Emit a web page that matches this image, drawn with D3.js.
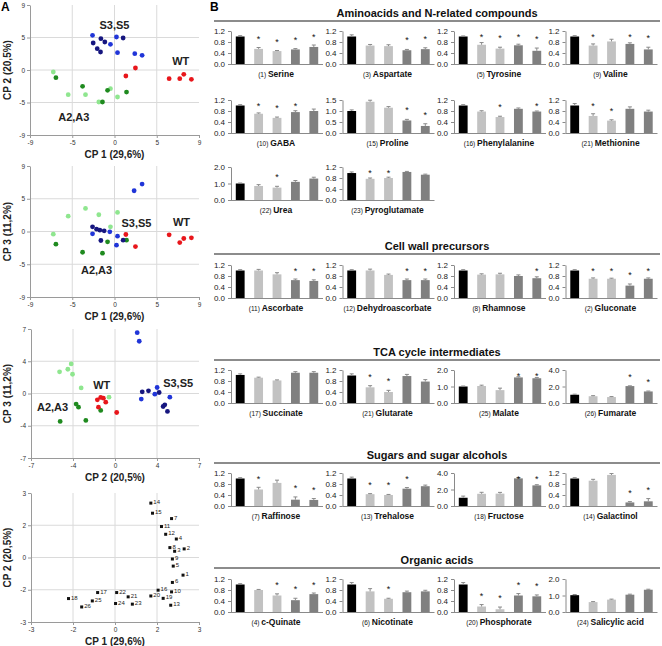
<!DOCTYPE html>
<html><head><meta charset="utf-8">
<script src="https://cdn.jsdelivr.net/npm/d3@7"></script>
<style>body{margin:0;background:#fff}svg{font-family:"Liberation Sans",Arial,sans-serif}</style>
</head><body><svg id="c" width="662" height="646"></svg>
<script>
// ---------------- DATA ----------------
const groups = ["WT","A2","A3","S3","S5"];

// PCA scores: CP1 vs CP2
const s12_WT = [[2.23,0.28],[1.21,-0.83],[5.82,-1.2],[6.95,-1.2],[7.38,-0.6],[8.19,-1.29]];
const s12_A2 = [[-6.52,-0.28],[-4.93,-3.41],[-3.09,-3.41],[-0.43,-2.58],[-1.67,-4.43],[0.32,-3.74]];
const s12_A3 = [[-6.24,-1.06],[-3.4,-2.26],[-0.74,-2.81],[-1.28,-4.43],[1.28,-3.05]];
const s12_S3 = [[-1.45,4.34],[-1.03,3.88],[-1.84,2.95],[-1.49,2.49],[0.92,4.43],[-2.27,3.74]];
const s12_S5 = [[-2.34,4.8],[-0.43,3.55],[0.21,4.57],[0.32,2.4],[2.16,2.26],[2.94,2.03]];
// CP1 vs CP3
const s13_WT = [[1.21,-0.41],[2.23,-2.07],[5.82,-0.46],[6.95,-1.52],[7.38,-0.96],[8.19,-0.87]];
const s13_A2 = [[-6.52,-0.37],[-4.93,2.11],[-3.09,3.17],[-1.67,2.3],[0.32,2.62],[-0.43,0.64]];
const s13_A3 = [[-6.24,-1.74],[-3.4,-2.85],[-1.28,-2.98],[-0.74,-1.42],[1.28,-1.19]];
const s13_S3 = [[-1.91,0.32],[-1.56,0.18],[-1.1,0.09],[-1.45,-1.24],[0.92,-1.19],[-2.34,0.64]];
const s13_S5 = [[2.09,5.6],[2.94,6.52],[-0.5,-0.05],[-2.34,-0.32],[0.32,-0.64],[0.21,-1.88]];
// CP2 vs CP3
const s23_WT = [[-1.47,-0.69],[-1.19,-0.43],[-0.97,-0.51],[-1.38,-1.48],[-0.77,-0.94],[0.14,-2.06]];
const s23_A2 = [[-4.62,2.35],[-3.93,2.63],[-3.65,3.21],[-3.54,2.09],[-2.82,0.61],[-0.5,-0.4]];
const s23_A3 = [[-3.24,-1.15],[-3.04,-1.48],[-4.57,-3.03],[-2.43,-2.92],[-1.19,-1.84]];
const s23_S3 = [[2.27,0.18],[2.79,0.29],[3.68,0.11],[4.01,-1.41],[4.15,-1.23],[4.37,-1.95]];
const s23_S5 = [[1.85,6.6],[2.02,5.67],[3.32,-0.07],[3.51,0.65],[2.19,-0.61],[4.57,-0.4]];

const groupLabels12 = [["S3,S5",0,6.2],["WT",7.06,1.2],["A2,A3",-4.33,-6.5]];
const groupLabels13 = [["S3,S5",2.34,1.19],["WT",7.13,1.33],["A2,A3",-1.91,-5.23]];
const groupLabels23 = [["WT",-1.1,0.94],["S3,S5",5.26,1.19],["A2,A3",-5.2,-1.48]];

const ticks9 = [-9,-4.5,0,4.5,9], tickLabels9 = ["-9","-5","0","5","9"];
const ticks7 = [-7,-3.5,0,3.5,7], tickLabels7 = ["-7","-4","0","4","7"];
const ticks3 = [-3,-1.5,0,1.5,3], tickLabels3 = ["-3","-2","0","2","3"];

// loadings CP1 / CP2 (metabolite numbers 1..26)
const loadingIds = d3.range(1,27);
const loadingCP1 = [2.43,2.47,2.13,2.19,2.08,2.05,2.02,1.96,2.05,2.02,1.66,1.81,1.99,1.28,1.34,1.54,-0.62,-1.66,1.72,1.28,0.47,0.06,0.62,0.02,-0.81,-1.19];
const loadingCP2 = [-0.82,0.40,0.29,0.86,-0.40,-1.16,1.81,0.46,-0.07,-1.60,1.44,1.08,-2.22,2.53,2.06,-1.52,-1.63,-1.91,-1.90,-1.79,-1.83,-1.63,-2.17,-2.14,-2.02,-2.30];

// bar charts
const sectionTitles = ["Aminoacids and N-related compounds","Cell wall precursors","TCA cycle intermediates","Sugars and sugar alcohols","Organic acids"];
const sectionMembers = [[0,1,2,3,4,5,6,7,8,9],[10,11,12,13],[14,15,16,17],[18,19,20,21],[22,23,24,25]];
const metNames = ["Serine","Aspartate","Tyrosine","Valine","GABA","Proline","Phenylalanine","Methionine","Urea","Pyroglutamate",
  "Ascorbate","Dehydroascorbate","Rhamnose","Gluconate",
  "Succinate","Glutarate","Malate","Fumarate",
  "Raffinose","Trehalose","Fructose","Galactinol",
  "c-Quinate","Nicotinate","Phosphorate","Salicylic acid"];
const metIds = [1,3,5,9,10,15,16,21,22,23, 11,12,8,2, 17,21,25,26, 7,13,18,14, 4,6,20,24];
const metYMax = [1.2,1.2,1.2,1.2,1.2,1.5,1.2,1.2,2,1.2, 1.2,1.2,1.2,1.2, 1.2,1.2,2,4, 1.2,1.2,4,1.2, 1.2,1.2,1.2,2];
const metMeans = [
  [1.0,0.55,0.47,0.53,0.62],[1.0,0.67,0.65,0.50,0.54],[1.0,0.70,0.56,0.68,0.48],[1.0,0.67,0.82,0.73,0.53],
  [1.0,0.70,0.55,0.76,0.80],[1.0,1.42,1.15,0.57,0.32],[1.0,0.78,0.58,0.88,0.78],[1.0,0.62,0.45,0.88,0.78],
  [1.0,0.85,0.75,1.10,1.30],[0.98,0.77,0.80,1.02,0.92],
  [1.0,1.0,0.86,0.65,0.62],[1.0,1.0,0.84,0.65,0.65],[1.0,0.85,0.86,0.80,0.72],[1.0,0.70,0.70,0.45,0.70],
  [1.02,0.92,0.82,1.10,1.10],[1.0,0.57,0.40,0.98,0.78],[1.0,1.03,0.78,1.55,1.50],[1.0,0.82,0.72,2.05,1.40],
  [1.0,0.60,0.84,0.23,0.22],[1.0,0.43,0.40,0.63,0.72],[1.0,1.48,1.50,3.35,2.50],[1.0,0.92,1.13,0.13,0.17],
  [1.0,0.80,0.60,0.43,0.65],[1.0,0.75,0.48,0.72,0.75],[1.0,0.20,0.10,0.60,0.57],[1.02,0.60,0.75,1.05,1.35]];
const metErrors = [
  [0.03,0.05,0.02,0.03,0.07],[0.06,0.04,0.05,0.03,0.05],[0.02,0.08,0.05,0.04,0.10],[0.03,0.06,0.08,0.04,0.08],
  [0.03,0.03,0.03,0.05,0.07],[0.05,0.07,0.05,0.05,0.10],[0.03,0.03,0.03,0.03,0.02],[0.07,0.08,0.03,0.07,0.05],
  [0.03,0.08,0.08,0.08,0.08],[0.04,0.03,0.03,0.02,0.02],
  [0.03,0.04,0.06,0.04,0.04],[0.03,0.05,0.03,0.04,0.04],[0.03,0.03,0.04,0.04,0.05],[0.03,0.03,0.02,0.06,0.03],
  [0.04,0.02,0.02,0.04,0.04],[0.06,0.06,0.06,0.06,0.07],[0.03,0.05,0.12,0.04,0.04],[0.07,0.07,0.06,0.03,0.05],
  [0.03,0.08,0.10,0.10,0.05],[0.05,0.02,0.02,0.04,0.04],[0.20,0.18,0.15,0.10,0.08],[0.03,0.05,0.05,0.03,0.10],
  [0.03,0.02,0.06,0.07,0.04],[0.07,0.10,0.02,0.04,0.04],[0.07,0.07,0.08,0.07,0.05],[0.04,0.03,0.03,0.03,0.03]];
const metSig = [
  [0,1,1,1,1],[0,0,0,1,1],[0,1,1,1,1],[0,1,0,1,1],
  [0,1,1,1,0],[0,0,0,1,1],[0,0,1,0,1],[0,1,1,0,0],
  [0,0,1,0,0],[0,1,1,0,0],
  [0,0,0,1,1],[0,0,0,1,1],[0,0,0,0,1],[0,1,1,1,1],
  [0,0,0,0,0],[0,1,1,0,0],[0,0,0,1,1],[0,0,0,1,1],
  [0,1,0,1,1],[0,1,1,1,0],[0,0,0,1,1],[0,0,0,1,1],
  [0,0,1,1,1],[0,0,1,0,0],[0,1,1,1,1],[0,0,0,0,0]];

// ---------------- DRAW ----------------
const svg = d3.select("#c");
const groupColor = {WT:"#e8161b",A2:"#8fe68f",A3:"#1f8a1f",S3:"#16167f",S5:"#2035d8"};

svg.append("text").attr("x",1).attr("y",11).attr("font-weight","bold").attr("font-size",12).text("A");
svg.append("text").attr("x",210).attr("y",11).attr("font-weight","bold").attr("font-size",12).text("B");

function frame(o){
  const g = svg.append("g");
  const x = d3.scaleLinear().domain([o.xt[0],o.xt[o.xt.length-1]]).range([o.left,o.right]);
  const y = d3.scaleLinear().domain([o.yt[0],o.yt[o.yt.length-1]]).range([o.bottom,o.top]);
  o.xt.slice(1,-1).forEach(t=>g.append("line").attr("x1",x(t)).attr("x2",x(t)).attr("y1",o.top).attr("y2",o.bottom).attr("stroke","#dadada"));
  o.yt.slice(1,-1).forEach(t=>g.append("line").attr("y1",y(t)).attr("y2",y(t)).attr("x1",o.left).attr("x2",o.right).attr("stroke","#dadada"));
  const ax = g.append("g").attr("transform",`translate(0,${o.bottom})`)
    .call(d3.axisBottom(x).tickValues(o.xt).tickFormat((d,i)=>o.xl[i]).tickSize(3).tickSizeOuter(0).tickPadding(2));
  const ay = g.append("g").attr("transform",`translate(${o.left},0)`)
    .call(d3.axisLeft(y).tickValues(o.yt).tickFormat((d,i)=>o.yl[i]).tickSize(3).tickSizeOuter(0).tickPadding(2));
  [ax,ay].forEach(a=>{a.selectAll("path,line").attr("stroke","#9a9a9a");a.selectAll("text").attr("font-size",6.5).attr("fill","#333").attr("font-family",null);});
  g.append("text").attr("x",(o.left+o.right)/2).attr("y",o.bottom+23).attr("text-anchor","middle")
    .attr("font-weight","bold").attr("font-size",10).attr("fill","#222").text(o.xTitle);
  g.append("text").attr("transform",`translate(11,${(o.top+o.bottom)/2}) rotate(-90)`).attr("text-anchor","middle")
    .attr("font-weight","bold").attr("font-size",10).attr("fill","#222").text(o.yTitle);
  return {g,x,y};
}

function scorePlot(o, sets, labs){
  const {g,x,y} = frame(o);
  sets.forEach(([grp,pts])=>{
    g.selectAll(null).data(pts).enter().append("circle")
      .attr("cx",d=>x(d[0])).attr("cy",d=>y(d[1])).attr("r",2.4).attr("fill",groupColor[grp]);
  });
  g.selectAll(null).data(labs).enter().append("text")
    .attr("x",d=>x(d[1])).attr("y",d=>y(d[2])+4).attr("text-anchor","middle")
    .attr("font-weight","bold").attr("font-size",11).attr("fill","#222").text(d=>d[0]);
}

scorePlot({left:30,right:199,top:5,bottom:135,xt:ticks9,xl:tickLabels9,yt:ticks9,yl:tickLabels9,xTitle:"CP 1 (29,6%)",yTitle:"CP 2 (20,5%)"},
  [["A2",s12_A2],["A3",s12_A3],["S5",s12_S5],["S3",s12_S3],["WT",s12_WT]], groupLabels12);
scorePlot({left:30,right:199,top:166,bottom:297,xt:ticks9,xl:tickLabels9,yt:ticks9,yl:tickLabels9,xTitle:"CP 1 (29,6%)",yTitle:"CP 3 (11,2%)"},
  [["A2",s13_A2],["A3",s13_A3],["S5",s13_S5],["S3",s13_S3],["WT",s13_WT]], groupLabels13);
scorePlot({left:31,right:199,top:329,bottom:458,xt:ticks7,xl:tickLabels7,yt:ticks7,yl:tickLabels7,xTitle:"CP 2 (20,5%)",yTitle:"CP 3 (11,2%)"},
  [["A2",s23_A2],["A3",s23_A3],["S5",s23_S5],["S3",s23_S3],["WT",s23_WT]], groupLabels23);

(function(){
  const {g,x,y} = frame({left:31,right:199,top:493,bottom:622,xt:ticks3,xl:tickLabels3,yt:ticks3,yl:tickLabels3,xTitle:"CP 1 (29,6%)",yTitle:"CP 2 (20,5%)"});
  const pts = loadingIds.map((id,i)=>({id,x:loadingCP1[i],y:loadingCP2[i]}));
  g.selectAll(null).data(pts).enter().append("rect")
    .attr("x",d=>x(d.x)-1.5).attr("y",d=>y(d.y)-1.5).attr("width",3).attr("height",3).attr("fill","#111");
  g.selectAll(null).data(pts).enter().append("text")
    .attr("x",d=>x(d.x)+2.5).attr("y",d=>y(d.y)+1).attr("font-size",6).attr("fill","#222").text(d=>d.id);
})();

// ---- panel B ----
const colX0 = 231, colStep = 111.5, chartW = 92, chartH = 33;
const rowBase = [64,133,200,298,403,506,612];
const sectionLineY = [21,254,360,463,568];
const barFill = {WT:"#000000",A2:"#c2c2c2",A3:"#c2c2c2",S3:"#808080",S5:"#808080"};

sectionTitles.forEach((t,i)=>{
  svg.append("line").attr("x1",214).attr("x2",660).attr("y1",sectionLineY[i]).attr("y2",sectionLineY[i])
    .attr("stroke","#8c8c8c").attr("stroke-width",1.8);
  svg.append("text").attr("x",437).attr("y",sectionLineY[i]-4).attr("text-anchor","middle")
    .attr("font-weight","bold").attr("font-size",11).attr("fill","#111").text(t);
});

const rows = [];
sectionMembers.forEach(mem=>{for(let i=0;i<mem.length;i+=4) rows.push(mem.slice(i,i+4));});

rows.forEach((mem,ri)=>{
  const base = rowBase[ri];
  mem.forEach((mi,ci)=>{
    const x0 = colX0 + ci*colStep;
    const g = svg.append("g");
    const ymax = metYMax[mi];
    const step = ymax===1.2?0.4:ymax===1.5?0.5:ymax/2;
    const x = d3.scaleBand().domain(groups).range([x0,x0+chartW]).paddingInner(0.52).paddingOuter(0.26);
    const y = d3.scaleLinear().domain([0,ymax]).range([base,base-chartH]);
    const data = groups.map((gr,i)=>({gr,v:metMeans[mi][i],e:metErrors[mi][i],s:metSig[mi][i]}));
    g.selectAll(null).data(data).enter().append("rect")
      .attr("x",d=>x(d.gr)).attr("width",x.bandwidth()).attr("y",d=>y(d.v)).attr("height",d=>base-y(d.v))
      .attr("fill",d=>barFill[d.gr]);
    const cx = d=>x(d.gr)+x.bandwidth()/2;
    g.selectAll(null).data(data).enter().append("line")
      .attr("x1",cx).attr("x2",cx).attr("y1",d=>y(d.v)).attr("y2",d=>y(d.v+d.e)).attr("stroke","#8a8a8a").attr("stroke-width",1);
    g.selectAll(null).data(data).enter().append("line")
      .attr("x1",d=>cx(d)-2).attr("x2",d=>cx(d)+2).attr("y1",d=>y(d.v+d.e)).attr("y2",d=>y(d.v+d.e)).attr("stroke","#8a8a8a").attr("stroke-width",1);
    g.selectAll(null).data(data.filter(d=>d.s)).enter().append("text")
      .attr("x",cx).attr("y",d=>Math.max(y(d.v+d.e)-11, base-chartH+4)+5).attr("text-anchor","middle")
      .attr("font-size",9).attr("fill","#111").text("*");
    const ay = g.append("g").attr("transform",`translate(${x0},0)`)
      .call(d3.axisLeft(y).tickValues(d3.range(0,ymax+1e-9,step)).tickFormat(d3.format(".1f")).tickSize(3).tickSizeOuter(0).tickPadding(3));
    ay.selectAll("path,line").attr("stroke","#8a8a8a");
    ay.selectAll("text").attr("font-size",8).attr("fill","#222").attr("font-family",null);
    g.append("line").attr("x1",x0).attr("x2",x0+chartW).attr("y1",base+0.5).attr("y2",base+0.5).attr("stroke","#8a8a8a");
    const lab = g.append("text").attr("x",x0+45).attr("y",base+13).attr("text-anchor","middle").attr("fill","#111");
    lab.append("tspan").attr("font-size",6.5).text(`(${metIds[mi]}) `);
    lab.append("tspan").attr("font-size",8.5).attr("font-weight","bold").text(metNames[mi]);
  });
});
</script></body></html>
